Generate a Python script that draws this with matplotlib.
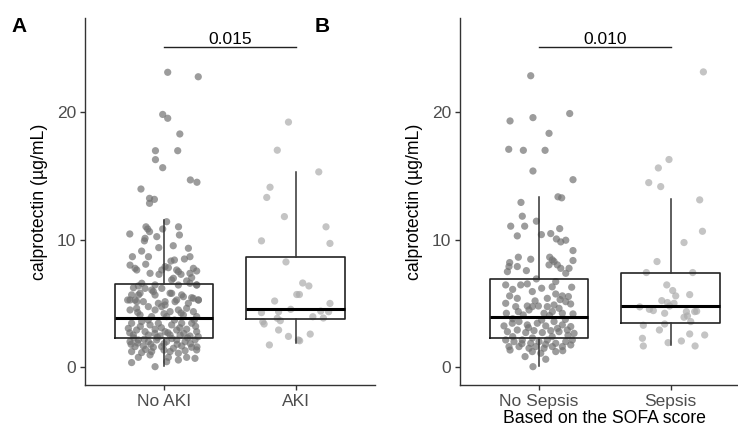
import matplotlib
matplotlib.use("Agg")
import matplotlib.pyplot as plt

plt.rcParams['font.family'] = ['Liberation Sans', 'DejaVu Sans']

# jittered points: (x offset from group centre, calprotectin value)
no_aki = [
    (0.028, 23.1), (0.26, 22.75), (-0.01, 19.8), (0.028, 19.5), (0.12, 18.27),
    (-0.065, 16.96), (0.104, 16.96), (-0.065, 16.26), (-0.01, 15.63), (0.2, 14.67),
    (0.25, 14.49), (-0.175, 13.96), (-0.11, 13.23), (-0.073, 13.15), (-0.11, 12.84),
    (0.02, 11.4), (0.11, 11.0), (-0.137, 11.0), (-0.124, 10.83), (-0.01, 10.83),
    (-0.26, 10.44), (0.117, 10.36), (-0.11, 10.62), (-0.144, 10.1), (-0.055, 10.23),
    (-0.149, 9.9), (0.07, 9.52), (0.185, 9.32), (-0.17, 9.1), (-0.04, 9.37),
    (-0.24, 8.66), (-0.118, 8.66), (0.079, 8.4), (0.053, 8.32), (0.155, 8.48),
    (0.197, 8.66), (-0.258, 8.0), (-0.139, 8.07), (-0.22, 7.75), (-0.207, 7.62),
    (0.008, 7.88), (0.033, 7.8), (0.096, 7.62), (0.109, 7.49), (-0.017, 7.62),
    (0.223, 7.75), (0.248, 7.54), (-0.106, 7.36), (-0.038, 7.28), (0.129, 7.28),
    (0.197, 7.36), (0.071, 6.97), (0.058, 6.84), (0.172, 6.76), (0.21, 7.02),
    (-0.169, 6.58), (-0.232, 6.23), (-0.144, 6.18), (-0.093, 6.05), (-0.017, 6.18),
    (0.109, 6.44), (0.248, 6.44), (-0.194, 5.66), (-0.068, 5.66), (0.058, 5.79),
    (0.147, 5.53), (0.21, 5.45), (-0.258, 5.27), (0.261, 5.27), (-0.207, 5.14),
    (0.008, 5.14), (0.096, 5.27),
    (-0.195, 6.37), (-0.068, 6.45), (0.197, 6.58), (0.248, 6.45), (-0.246, 5.67),
    (-0.182, 5.80), (-0.081, 5.93), (0.046, 5.80), (0.134, 5.67), (0.223, 5.40),
    (-0.276, 5.27), (-0.22, 5.27), (-0.157, 5.14), (-0.043, 5.01), (0.008, 4.88),
    (0.084, 5.14), (0.185, 5.01), (0.261, 5.27), (-0.258, 4.49), (-0.208, 4.62),
    (-0.119, 4.75), (-0.068, 4.49), (-0.018, 4.75), (0.046, 4.36), (0.109, 4.49),
    (0.172, 4.62), (0.223, 4.36), (-0.182, 4.10), (-0.094, 3.97), (0.020, 3.97),
    (0.147, 4.10), (0.248, 3.97), (-0.246, 3.45), (-0.17, 3.58), (-0.106, 3.32),
    (-0.043, 3.45), (0.058, 3.32), (0.134, 3.45), (0.21, 3.45), (-0.271, 3.05),
    (-0.208, 2.92), (-0.144, 2.79), (-0.068, 2.98), (0.008, 2.79), (0.096, 2.92),
    (0.172, 2.98), (0.248, 2.79), (-0.233, 2.53), (-0.119, 2.53), (-0.03, 2.45),
    (0.046, 2.53), (0.122, 2.53), (0.197, 2.45), (-0.258, 2.01), (-0.195, 2.14),
    (-0.119, 2.01), (-0.056, 2.14), (0.02, 2.01), (0.096, 2.14), (0.16, 2.01),
    (0.235, 2.14), (-0.22, 1.62), (-0.157, 1.67), (-0.081, 1.57), (-0.018, 1.62),
    (0.071, 1.49), (0.134, 1.67), (0.21, 1.57), (-0.246, 1.23), (-0.17, 1.15),
    (-0.094, 1.23), (0.046, 1.23), (0.109, 1.10), (0.248, 1.36), (-0.195, 0.78),
    (-0.106, 0.97), (0.033, 0.78), (0.172, 0.78), (0.235, 0.70), (-0.246, 0.37),
    (-0.068, 0.05), (0.02, 0.44), (0.109, 0.57),
    (-0.23, 2.3), (-0.15, 2.2), (-0.05, 2.35), (0.06, 2.25), (0.18, 2.3),
    (-0.2, 1.9), (-0.1, 1.8), (0.0, 1.85), (0.1, 1.8), (0.2, 1.85),
    (-0.26, 2.7), (-0.18, 3.2), (-0.02, 3.1), (0.12, 3.1), (0.24, 3.2),
    (-0.12, 3.7), (0.08, 3.7), (0.23, 3.7), (-0.2, 4.3), (0.0, 4.2),
    (0.13, 4.25), (-0.14, 1.4), (0.0, 1.35), (0.16, 1.3), (-0.07, 2.65),
    (0.03, 2.7), (0.15, 2.65), (-0.25, 1.8), (0.25, 1.6), (0.26, 2.4),
]
aki = [
    (-0.055, 19.2), (-0.14, 17.0), (0.175, 15.3), (-0.195, 14.1), (-0.22, 13.3),
    (-0.086, 11.8), (0.23, 11.0), (0.26, 9.7), (-0.26, 9.9), (-0.074, 8.25),
    (0.053, 6.6), (0.10, 6.37), (0.008, 5.7), (0.028, 5.7), (-0.16, 5.19),
    (0.26, 5.0), (-0.038, 4.54), (-0.26, 4.28), (-0.13, 4.35), (0.19, 4.4),
    (0.25, 4.35), (-0.14, 3.84), (-0.117, 3.65), (0.13, 3.96), (0.21, 3.86),
    (-0.25, 3.57), (-0.24, 3.39), (-0.13, 2.92), (0.11, 2.6), (-0.055, 2.42),
    (0.02, 2.14), (0.03, 2.08), (-0.2, 1.75),
]
no_sepsis = [
    (-0.063, 22.83), (-0.22, 19.29), (-0.046, 19.55), (0.233, 19.87), (0.076, 18.32),
    (-0.23, 17.07), (-0.119, 16.99), (0.046, 16.99), (-0.046, 15.37), (0.258, 14.69),
    (0.144, 13.35), (0.172, 13.27), (-0.137, 12.91), (-0.127, 11.83), (-0.02, 11.44),
    (-0.215, 11.05), (-0.109, 11.05), (0.157, 10.86), (-0.165, 10.29), (0.018, 10.39),
    (0.089, 10.47), (0.132, 10.05), (0.165, 9.82), (0.203, 9.95),
    (0.258, 9.14), (-0.157, 8.62), (-0.063, 8.46), (0.081, 8.62), (0.101, 8.41),
    (0.114, 8.28), (-0.223, 8.2), (0.258, 8.36), (0.139, 8.02), (-0.228, 7.89),
    (-0.165, 7.89), (0.076, 8.02), (0.165, 7.75), (0.228, 7.75), (-0.24, 7.49),
    (-0.096, 7.57), (0.203, 7.36), (-0.02, 6.92),
    (-0.253, 6.45), (-0.139, 6.45), (-0.089, 6.53), (0.127, 6.71), (0.248, 6.27),
    (0.02, 6.19), (-0.051, 5.93), (-0.223, 5.59), (-0.165, 5.4), (0.063, 5.4),
    (0.127, 5.74), (0.177, 5.59), (0.223, 5.54), (-0.253, 5.01), (-0.177, 4.75),
    (-0.089, 4.8), (-0.051, 4.75), (-0.005, 4.8), (0.063, 4.75), (0.114, 4.88),
    (0.152, 4.62), (0.24, 4.96), (0.203, 5.14), (-0.157, 4.36), (-0.076, 4.49),
    (0.038, 4.23), (0.101, 4.36), (0.177, 4.23), (0.258, 4.18), (-0.248, 4.23),
    (-0.266, 3.24), (-0.203, 3.45), (-0.152, 3.58), (-0.089, 3.32), (-0.013, 3.45),
    (0.051, 3.24), (0.114, 3.58), (0.177, 3.32), (0.241, 3.19), (-0.24, 2.79),
    (-0.165, 2.92), (-0.101, 2.72), (-0.038, 2.87), (0.025, 2.72), (0.089, 2.87),
    (0.152, 2.79), (0.215, 2.92), (0.266, 2.66),
    (-0.253, 2.14), (-0.19, 2.01), (-0.127, 2.14), (-0.063, 1.88), (0.0, 2.01),
    (0.063, 2.14), (0.127, 1.88), (0.203, 2.01), (0.253, 2.14), (-0.228, 1.62),
    (-0.152, 1.62), (-0.076, 1.49), (-0.025, 1.62), (0.038, 1.49), (0.101, 1.62),
    (0.177, 1.62), (0.241, 1.75), (-0.051, 1.23), (0.013, 1.1), (0.127, 1.23),
    (-0.106, 0.84), (0.051, 0.63), (-0.046, 0.05),
    (-0.2, 2.4), (-0.05, 2.3), (0.1, 2.4), (0.22, 2.5), (-0.13, 1.85),
    (0.05, 1.8), (0.18, 1.3), (-0.22, 1.35), (-0.08, 3.1), (0.14, 3.05),
    (-0.2, 3.8), (0.02, 3.7), (0.2, 3.75), (-0.12, 4.1), (0.08, 4.05),
    (-0.03, 5.2), (0.16, 5.3), (-0.2, 6.1), (0.1, 6.3),
]
sepsis = [
    (0.248, 23.13), (-0.013, 16.27), (-0.094, 15.61), (-0.167, 14.46), (-0.076, 14.15),
    (0.22, 13.11), (0.241, 10.65), (0.101, 9.77), (-0.104, 8.28), (-0.185, 7.42),
    (0.167, 7.42), (-0.03, 6.45), (0.015, 6.01), (0.038, 5.59), (0.144, 5.69),
    (-0.068, 5.22), (-0.025, 5.07), (-0.008, 4.8), (0.025, 5.01), (-0.235, 4.73),
    (-0.162, 4.54), (-0.132, 4.44), (-0.046, 4.23), (0.119, 4.36), (0.182, 4.36),
    (0.197, 4.39), (0.101, 3.92), (0.127, 4.02), (0.152, 3.58), (-0.208, 3.29),
    (-0.046, 3.39), (-0.086, 2.92), (0.144, 2.61), (0.258, 2.53), (-0.215, 2.27),
    (-0.208, 1.67), (-0.02, 1.93), (0.081, 2.06), (0.185, 1.67),
]

# box stats: whisker low, Q1, median, Q3, whisker high
no_aki_box = [0.1, 2.32, 3.84, 6.52, 11.53]
aki_box = [1.88, 3.76, 4.59, 8.64, 15.32]
no_sepsis_box = [0.1, 2.32, 3.92, 6.92, 13.31]
sepsis_box = [1.75, 3.49, 4.8, 7.39, 13.15]

panels = [
    (["No AKI", "AKI"], [no_aki, aki], [no_aki_box, aki_box], "0.015", ""),
    (["No Sepsis", "Sepsis"], [no_sepsis, sepsis], [no_sepsis_box, sepsis_box],
     "0.010", "Based on the SOFA score"),
]
sig_y = 25.06
point_colors = ["#727272", "#ababab"]

fig = plt.figure(figsize=(7.38, 4.32), dpi=100)
lefts = [85 / 738, 460 / 738]

for left, (labels, groups, boxes, pval, xlab) in zip(lefts, panels):
    ax = fig.add_axes([left, 0.1088, 0.3926, 0.8495])
    for i, pts in enumerate(groups):
        xs = [i + 1 + p[0] for p in pts]
        ys = [p[1] for p in pts]
        ax.scatter(xs, ys, s=27, color=point_colors[i], alpha=0.7,
                   edgecolors='none', zorder=2)
    stats = [dict(whislo=b[0], q1=b[1], med=b[2], q3=b[3], whishi=b[4],
                  fliers=[]) for b in boxes]
    ax.bxp(stats, positions=[1, 2], widths=0.75, showcaps=False,
           showfliers=False, patch_artist=False,
           boxprops=dict(color="#222222", linewidth=1.2),
           medianprops=dict(color="black", linewidth=2.2),
           whiskerprops=dict(color="#333333", linewidth=1.1),
           zorder=3)
    ax.plot([1, 2], [sig_y, sig_y], color="#222222", linewidth=1)
    ax.text(1.5, 25.3, pval, ha='center', va='baseline', fontsize=12.5)

    ax.set_xlim(0.4, 2.6)
    ax.set_ylim(-1.386, 27.35)
    ax.set_xticks([1, 2])
    ax.set_xticklabels(labels)
    ax.set_yticks([0, 10, 20])
    ax.tick_params(axis='both', labelsize=12.5, labelcolor="#4d4d4d",
                   color="#333333", length=3.5, width=1, pad=3)
    for side in ['top', 'right']:
        ax.spines[side].set_visible(False)
    for side in ['left', 'bottom']:
        ax.spines[side].set_color("#333333")
        ax.spines[side].set_linewidth(1)
    ax.set_ylabel("calprotectin (µg/mL)", fontsize=12.7, labelpad=6)
    if xlab:
        ax.set_xlabel(xlab, fontsize=12.7, labelpad=1)

fig.text(19 / 738, 1 - 27 / 432, "A", fontsize=15, fontweight='bold',
         ha='center', va='center')
fig.text(322 / 738, 1 - 27 / 432, "B", fontsize=15, fontweight='bold',
         ha='center', va='center')

fig.savefig("out.png", dpi=100)
